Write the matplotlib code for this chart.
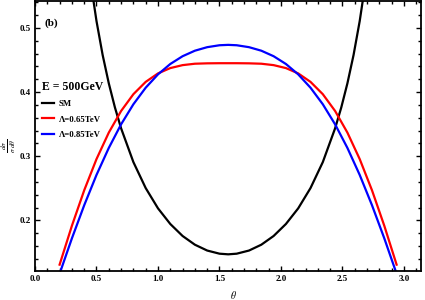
import matplotlib
matplotlib.use("Agg")
import matplotlib.pyplot as plt
from matplotlib.ticker import MultipleLocator

plt.rcParams['font.family'] = ['Liberation Serif', 'DejaVu Serif']
plt.rcParams['mathtext.fontset'] = 'stix'

# --- data ---
theta_sm = [0.45, 0.50, 0.55, 0.60, 0.65, 0.70, 0.80, 0.90, 1.00, 1.10, 1.20, 1.30, 1.40, 1.50, 1.571,
            1.64, 1.74, 1.84, 1.94, 2.04, 2.14, 2.24, 2.34, 2.44, 2.49, 2.54, 2.59, 2.64, 2.69]
sm = [0.5747, 0.5107, 0.4578, 0.4136, 0.3759, 0.3435, 0.2908, 0.2503, 0.2187, 0.1943, 0.1756, 0.1620, 0.1529, 0.1480, 0.1470,
      0.1480, 0.1529, 0.1620, 0.1756, 0.1943, 0.2187, 0.2503, 0.2908, 0.3435, 0.3759, 0.4136, 0.4578, 0.5107, 0.5747]

theta_np = [0.20, 0.30, 0.40, 0.50, 0.60, 0.70, 0.80, 0.90, 1.00, 1.10, 1.20, 1.30, 1.40, 1.50, 1.571,
            1.64, 1.74, 1.84, 1.94, 2.04, 2.14, 2.24, 2.34, 2.44, 2.54, 2.64, 2.74, 2.84, 2.94]
lam065 = [0.1309, 0.1915, 0.2468, 0.2955, 0.3368, 0.3705, 0.3967, 0.4159, 0.4291, 0.4374, 0.4420, 0.4442, 0.4448, 0.4450, 0.4450,
          0.4450, 0.4448, 0.4442, 0.4420, 0.4374, 0.4291, 0.4159, 0.3967, 0.3705, 0.3368, 0.2955, 0.2468, 0.1915, 0.1309]
lam085 = [0.1167, 0.1719, 0.2235, 0.2708, 0.3129, 0.3497, 0.3810, 0.4068, 0.4276, 0.4438, 0.4559, 0.4645, 0.4700, 0.4730, 0.4736,
          0.4730, 0.4700, 0.4645, 0.4559, 0.4438, 0.4276, 0.4068, 0.3810, 0.3497, 0.3129, 0.2708, 0.2235, 0.1719, 0.1167]

labels = ["SM", "\u039b=0.65TeV", "\u039b=0.85TeV"]
colors = ["black", "red", "blue"]

fig = plt.figure(figsize=(4.25, 3.0), dpi=100)
ax = fig.add_axes([35/425, 1-271/300, (421.4-35)/425, (271-1)/300])

lw = 1.6
ax.plot(theta_sm, sm, color=colors[0], lw=lw, label=labels[0])
ax.plot(theta_np, lam065, color=colors[1], lw=lw, label=labels[1])
ax.plot(theta_np, lam085, color=colors[2], lw=lw, label=labels[2])

ax.set_xlim(0, 3.14159)
ax.set_ylim(0.121, 0.542)

ax.xaxis.set_major_locator(MultipleLocator(0.5))
ax.xaxis.set_minor_locator(MultipleLocator(0.1))
ax.yaxis.set_major_locator(MultipleLocator(0.1))
ax.yaxis.set_minor_locator(MultipleLocator(0.02))
ax.tick_params(which='both', direction='in', top=True, right=True, width=1.0)
ax.tick_params(which='major', length=3.5, labelsize=6.5, pad=3)
ax.tick_params(which='minor', length=2)
for lab in ax.get_xticklabels() + ax.get_yticklabels():
    lab.set_fontweight('bold')
for s in ax.spines.values():
    s.set_linewidth(1.3)

ax.set_xlabel(r'$\theta$', fontsize=7)
ax.xaxis.set_label_coords((233 - 35) / 386.4, -(289 - 271) / 270)
ax.set_ylabel(r'$\frac{d\sigma}{\sigma\ d\theta}$', fontsize=7.5, rotation=90)
ax.yaxis.set_label_coords(-(35 - 18.5) / 386.4, (271 - 146) / 270)

ax.text(0.025, 0.91, "(b)", transform=ax.transAxes, fontsize=8, fontweight='bold')

leg = ax.legend(loc='upper left', bbox_to_anchor=(0.005, 0.722), frameon=False,
                title="E = 500GeV", title_fontsize=8.5, fontsize=6.3,
                handlelength=1.3, handletextpad=0.6, labelspacing=0.8,
                alignment='left', borderaxespad=0.2)
leg.get_title().set_fontweight('bold')
for t in leg.get_texts():
    t.set_fontweight('bold')

fig.savefig("out.png", dpi=100)
